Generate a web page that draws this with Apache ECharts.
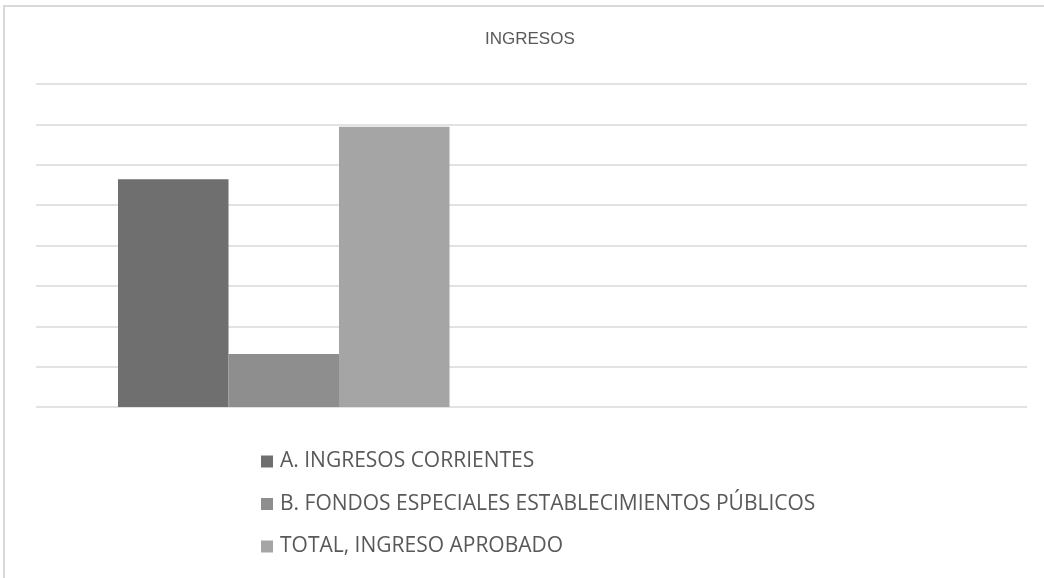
<!DOCTYPE html>
<html>
<head>
    <meta charset="UTF-8">
    <title>INGRESOS</title>
    <script src="https://cdn.jsdelivr.net/npm/echarts@6/dist/echarts.min.js"></script>
    <style>
        html, body { margin: 0; padding: 0; background: #ffffff; }
        #frame { position: absolute; left: 3px; top: 5px; width: 1060px; height: 600px;
                 border-left: 2px solid #d9d9d9; border-top: 2px solid #d9d9d9; box-sizing: border-box; }
        #main { position: absolute; left: 0; top: 0; width: 1044px; height: 578px; }
    </style>
</head>
<body>
<div id="frame"></div>
<div id="main"></div>
<script>
    // datos (escala sin etiquetas)
    var categories = ['Ingresos', 'Otro'];
    var corrientes = [5.64, null];
    var fondosEspeciales = [1.31, null];
    var totalAprobado = [6.94, null];
    var seriesNames = ['A. INGRESOS CORRIENTES', 'B. FONDOS ESPECIALES ESTABLECIMIENTOS PÚBLICOS', 'TOTAL, INGRESO APROBADO'];

    var myChart = echarts.init(document.getElementById('main'));
    var option = {
        animation: false,
        title: {
            text: 'INGRESOS',
            left: 480,
            top: 26,
            textStyle: {
                fontFamily: '"Liberation Sans Narrow", "Liberation Sans", sans-serif',
                fontSize: 17,
                fontWeight: 'normal',
                color: '#595959'
            }
        },
        legend: {
            orient: 'vertical',
            left: 256,
            top: 446,
            itemWidth: 12,
            itemHeight: 12,
            itemGap: 21.5,
            icon: 'rect',
            textStyle: {
                fontFamily: '"Open Sans", sans-serif',
                fontSize: 21,
                color: '#595959',
                padding: [0, 0, 0, 2]
            },
            data: seriesNames
        },
        grid: { left: 36, right: 17, top: 84, bottom: 171, containLabel: false },
        xAxis: {
            type: 'category',
            data: categories,
            axisLine: { show: false },
            axisTick: { show: false },
            axisLabel: { show: false }
        },
        yAxis: {
            type: 'value',
            min: 0,
            max: 8,
            interval: 1,
            axisLine: { show: false },
            axisTick: { show: false },
            axisLabel: { show: false },
            splitLine: { lineStyle: { color: '#d9d9d9', width: 1.5 } }
        },
        series: [
            { name: seriesNames[0], type: 'bar', data: corrientes, barWidth: 110.5, barGap: '0%',
              itemStyle: { color: '#6f6f6f' } },
            { name: seriesNames[1], type: 'bar', data: fondosEspeciales, barWidth: 110.5, barGap: '0%',
              itemStyle: { color: '#8e8e8e' } },
            { name: seriesNames[2], type: 'bar', data: totalAprobado, barWidth: 110.5, barGap: '0%',
              itemStyle: { color: '#a5a5a5' } }
        ]
    };
    myChart.setOption(option);
</script>
</body>
</html>
